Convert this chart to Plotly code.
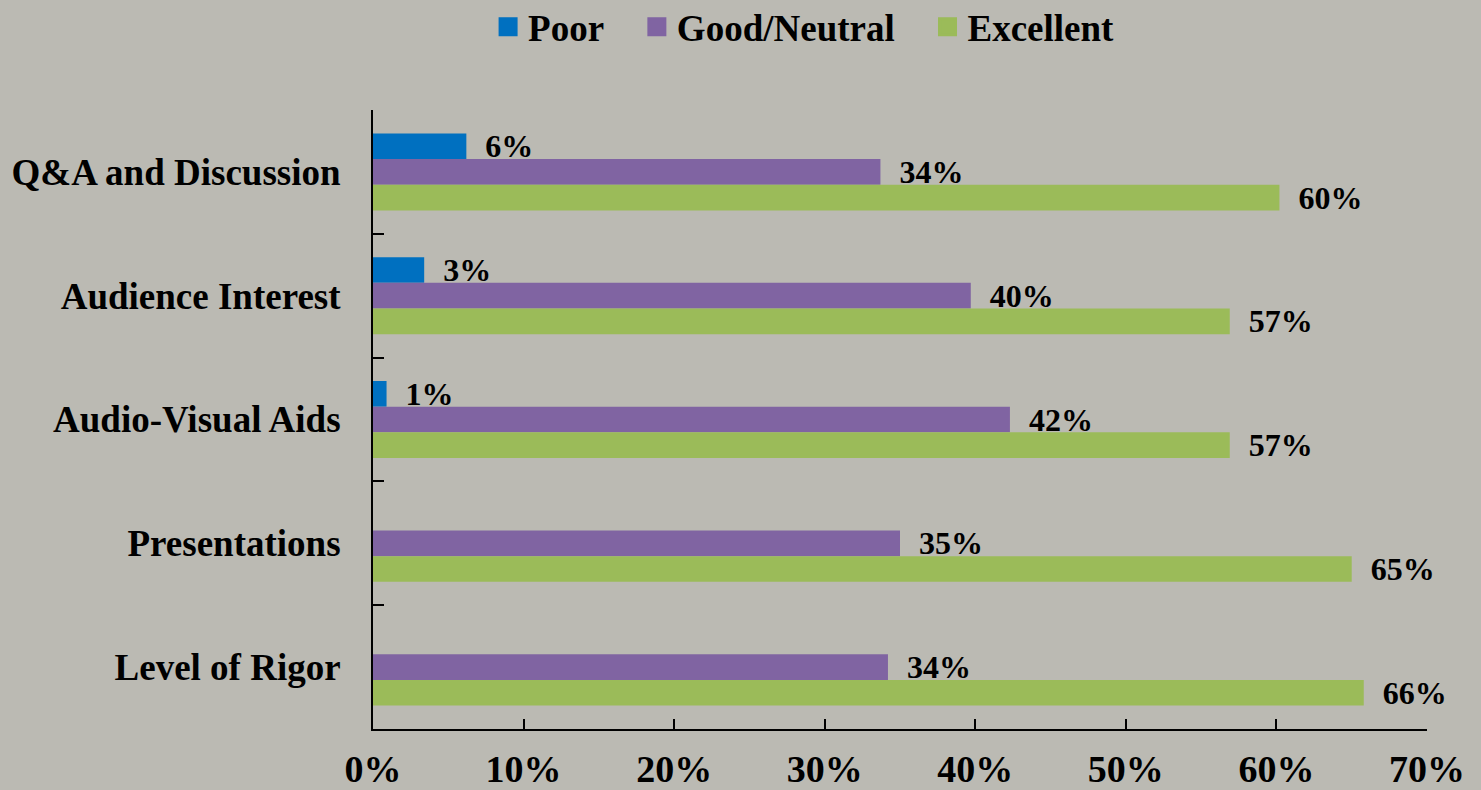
import plotly.graph_objects as go

categories = ["Q&A and Discussion", "Audience Interest", "Audio-Visual Aids", "Presentations", "Level of Rigor"]
poor = [6.2, 3.4, 0.9, None, None]
good_neutral = [33.7, 39.7, 42.3, 35.0, 34.2]
excellent = [60.2, 56.9, 56.9, 65.0, 65.8]
x_ticks = [0, 10, 20, 30, 40, 50, 60, 70]

series = [
    ("Poor", poor, "#0070C0"),
    ("Good/Neutral", good_neutral, "#8064A2"),
    ("Excellent", excellent, "#9BBB59"),
]

FONT = "Liberation Serif"

def label(v):
    return "" if v is None else "\u00a0\u00a0" + f"{round(v)}%"

fig = go.Figure()
for name, vals, color in series:
    fig.add_trace(go.Bar(
        name=name, y=categories, x=vals, orientation="h",
        marker=dict(color=color, line=dict(width=0)),
        text=[label(v) for v in vals], textposition="outside",
        constraintext="none", cliponaxis=False, showlegend=False,
        textfont=dict(family=FONT, size=32, color="black", weight="bold"),
    ))

# legend entries with larger square swatches
for i, (name, vals, color) in enumerate(series):
    pad = "\u00a0\u00a0\u00a0" if i < len(series) - 1 else ""
    fig.add_trace(go.Scatter(
        name=name + pad, x=[None], y=[None], mode="markers",
        marker=dict(symbol="square", size=16, color=color, line=dict(width=3, color=color)),
        showlegend=True, hoverinfo="skip",
    ))

bg = "rgb(187,186,179)"
fig.update_layout(
    width=1481, height=790,
    paper_bgcolor=bg, plot_bgcolor=bg,
    barmode="group", bargap=0.378, bargroupgap=0,
    margin=dict(l=373, r=54, t=110, b=61, autoexpand=False),
    font=dict(family=FONT, size=38, color="black", weight="bold"),
    legend=dict(orientation="h", xref="paper", yref="paper",
                x=0.409, xanchor="center", y=1.184, yanchor="top",
                font=dict(family=FONT, size=37, color="black", weight="bold"),
                itemwidth=30, traceorder="normal", itemsizing="trace"),
    xaxis=dict(range=[0, 70], tickvals=x_ticks, ticktext=[f"{t}%" for t in x_ticks],
               showgrid=False, zeroline=False, showline=True, linecolor="black", linewidth=2,
               ticks="inside", ticklen=10, tickwidth=2, tickcolor="black",
               ticklabelstandoff=5, automargin=False),
    yaxis=dict(autorange="reversed", showgrid=False, zeroline=False, showline=True,
               linecolor="black", linewidth=2, ticks="inside", ticklen=11, tickwidth=2,
               tickcolor="black", tickson="boundaries", ticklabelstandoff=23,
               tickfont=dict(size=37), automargin=False),
)

fig.write_html("out.html", post_script="document.body.style.margin='0';",
               config={"displayModeBar": False})
